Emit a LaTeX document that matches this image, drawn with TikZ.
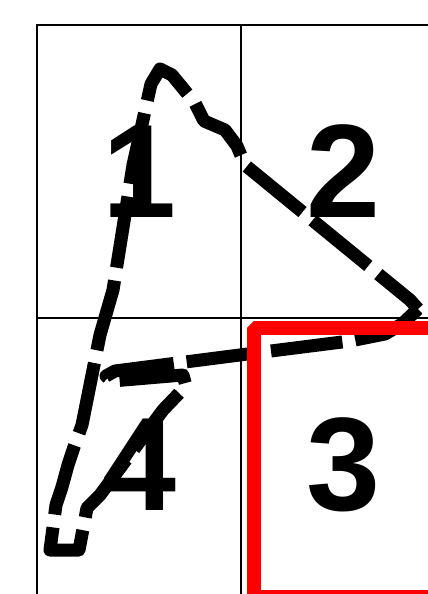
\documentclass[tikz,border=0pt]{standalone}
\usepackage{fontspec}
\setmainfont{Liberation Sans}
\usetikzlibrary{positioning}

\begin{document}
\begin{tikzpicture}[x=1pt, y=-1pt,
    node distance=0pt,
    cell/.style={rectangle, draw, line width=2pt, outer sep=0pt, inner sep=0pt, minimum width=204pt, minimum height=293pt, font=\fontsize{133}{133}\selectfont\bfseries},
    trail/.style={draw=black, line width=13pt, dash pattern=on 72pt off 13pt, line join=round},
    frame/.style={draw=red, line width=14pt, line join=bevel}
]
\useasboundingbox (0,0) rectangle (428,594);
\clip (0,0) rectangle (428,594);
\node[cell] (c1) at (139,171.5) {1};
\node[cell, right=of c1] (c2) {2};
\node[cell, below=of c2] (c3) {3};
\node[cell, below=of c1] (c4) {4};
% freehand stroke
\draw[trail] (418,309) -- (402,324) -- (385,334) -- (350,341) -- (263,352) -- (115,371) -- (106,376) -- (112,381) -- (183,375) -- (186,386) -- (163,410) -- (100,495) -- (87,508) -- (79,550) -- (50,550) -- (56,505) -- (62,487) -- (68,465) -- (74,447) -- (82,425) -- (100,335) -- (113,290) -- (133,165) -- (151,84) -- (160,69) -- (172,75) -- (195,103) -- (204,121) -- (225,130) -- (237,146) -- (245,165) -- (410,300) -- cycle;
\draw[frame] (254,328) rectangle (442,597);
\end{tikzpicture}
\end{document}
